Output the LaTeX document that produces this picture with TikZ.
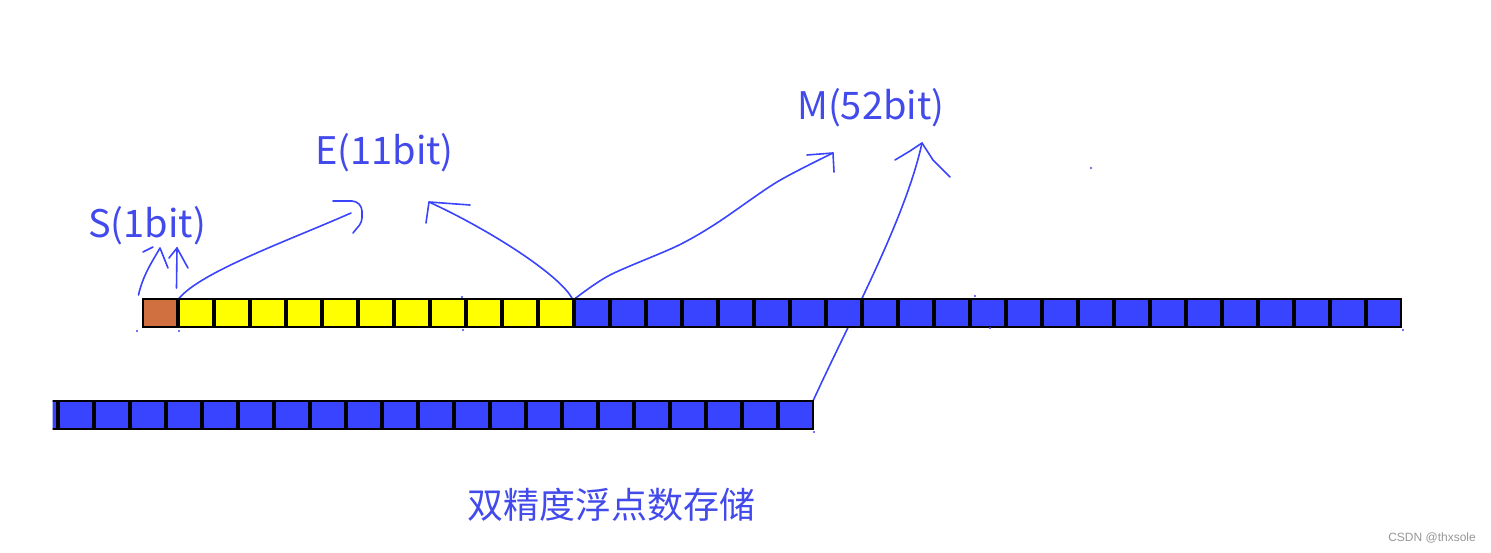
\documentclass[tikz,border=0pt]{standalone}
\usepackage{fontspec}
\setmainfont{Noto Sans CJK SC}
\newfontfamily\markfont{Liberation Sans}
\usetikzlibrary{calc,backgrounds}
\definecolor{bitbrown}{RGB}{208,112,64}
\definecolor{bityellow}{RGB}{255,255,0}
\definecolor{bitblue}{RGB}{56,68,255}
\definecolor{penblue}{RGB}{58,68,250}
\definecolor{inkblue}{RGB}{66,74,235}
\definecolor{markgray}{RGB}{150,150,150}

\begin{document}
\begin{tikzpicture}[x=1pt, y=-1pt,
  cell/.style={draw=black, line width=2pt, minimum width=34pt, minimum height=28pt, inner sep=0pt, outer sep=0pt},
  pen/.style={draw=penblue, line width=1.6pt, line join=round, line cap=round},
  lbl/.style={text=inkblue, font=\fontsize{38}{40}\selectfont, inner sep=0pt}
]
  \useasboundingbox (0,0) rectangle (1491,552);

  % top row: sign, exponent, mantissa
  \node[cell, fill=bitbrown] (s) at (159.5,313) {};
  \foreach \i in {1,...,11}
    \node[cell, fill=bityellow] (e\i) at (159.5+36*\i,313) {};
  \foreach \i in {1,...,23}
    \node[cell, fill=bitblue] (m\i) at (555.5+36*\i,313) {};

  % bottom row: rest of the mantissa
  \begin{scope}
    \clip (52.5,390) rectangle (820,440);
    \foreach \i in {0,...,21}
      \node[cell, fill=bitblue] (b\i) at (40+36*\i,415) {};
  \end{scope}

  % labels
  \node[lbl, anchor=base west] (stxt) at (88,237) {S(1bit)};
  \node[lbl, anchor=base west] (etxt) at (315,164) {E(11bit)};
  \node[lbl, anchor=base west] (mtxt) at (797,119) {M(52bit)};
  \node[text=inkblue, font=\fontsize{36}{40}\selectfont, inner sep=0pt] (title) at (611,505) {双精度浮点数存储};
  \node[text=markgray, font=\markfont\fontsize{12}{14}\selectfont, inner sep=0pt, anchor=base east] (mark) at (1476,541) {CSDN @thxsole};

  % arrow tips
  \coordinate (sa) at (160,248);
  \coordinate (sb) at (177,248);
  \coordinate (ea) at (351,213);
  \coordinate (eb) at (429,202);
  \coordinate (ma) at (833,153);
  \coordinate (mb) at (922,143);

  \begin{scope}[on background layer]
    % sign bit
    \draw[pen] ($(s.north west)+(-4,-4)$) .. controls (143,275) and (152,262) .. (sa) -- ($(sa)+(8,20)$);
    \draw[pen] ($(sa)+(-17,4)$) -- ($(sa)+(-7,-1)$);
    \draw[pen] ($(s.north east)+(0,-11)$) -- (sb);
    \draw[pen] ($(sb)+(-8,10)$) -- (sb) -- ($(sb)+(11,20)$);
    % exponent
    \draw[pen] (e1.north west) .. controls (200,272) and (290,240) .. (ea);
    \draw[pen, rounded corners=4pt] ($(ea)+(-18,-12)$) -- ($(ea)+(5,-12)$) -- ($(ea)+(11,-6)$) -- ($(ea)+(11,9)$) -- ($(ea)+(2,20)$);
    \draw[pen] (e11.north east) .. controls (560,275) and (490,230) .. (eb);
    \draw[pen] ($(eb)+(41,3)$) -- (eb) -- ($(eb)+(-3,21)$);
    % mantissa
    \draw[pen] plot[smooth, tension=0.5] coordinates {(m1.north west) (610,275) (677,246) (717,223) (777,182) (ma)};
    \draw[pen] ($(ma)+(-26,2)$) -- (ma) -- ($(ma)+(1,19)$);
    \draw[pen] (b21.north east) .. controls (850,320) and (905,220) .. (mb);
    \draw[pen] ($(mb)+(-27,17)$) -- ($(mb)+(-12,8)$) -- (mb) -- ($(mb)+(11,17)$) -- ($(mb)+(28,34)$);
  \end{scope}

  % stray pen marks
  \foreach \p in {(1091,168),(137,331),(179,331),(462,297),(463,330),(975,296),(990,328),(1403,330),(814,432)}
    \fill[penblue] \p circle (1.2);
\end{tikzpicture}
\end{document}
